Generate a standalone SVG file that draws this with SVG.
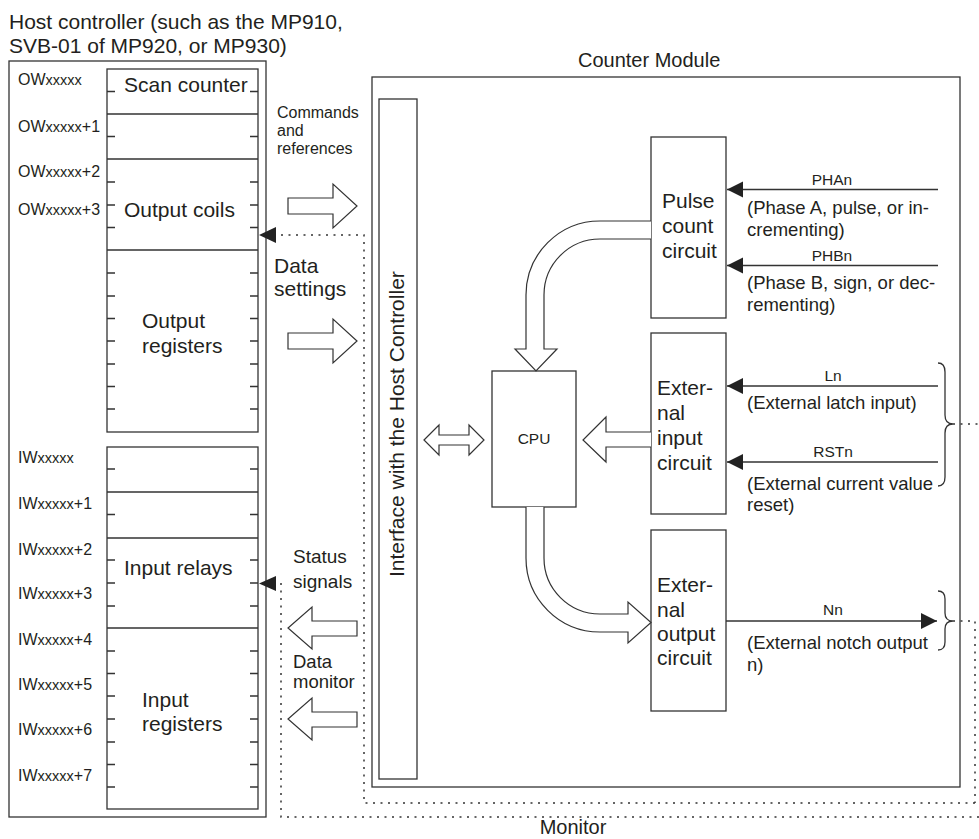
<svg xmlns="http://www.w3.org/2000/svg" width="979" height="839" viewBox="0 0 979 839">
<defs>
<style>
.ln{fill:none;stroke:#333;stroke-width:1.3}
.box{fill:#fff;stroke:#333;stroke-width:1.3}
.blk{fill:#fff;stroke:#333;stroke-width:1.2;stroke-linejoin:miter}
.dot{fill:none;stroke:#333;stroke-width:1.5;stroke-dasharray:2 5.5}
.sig{fill:none;stroke:#333;stroke-width:1.6}
text{font-family:"Liberation Sans",Arial,Helvetica,sans-serif;fill:#231f20}
.t21{font-size:21px}
.t20{font-size:20px}
.t19{font-size:19px}
.t18{font-size:18.5px}
.t16{font-size:16px}
.t15{font-size:15.5px}
.lbl{font-size:16px}
.x{font-size:14.5px}
</style>
<marker id="ah" markerUnits="userSpaceOnUse" markerWidth="17" markerHeight="17" refX="16" refY="8" orient="auto">
<path d="M0,0 L16,8 L0,16 z" fill="#222"/>
</marker>
</defs>

<text class="t21" x="9" y="29">Host controller (such as the MP910,</text>
<text class="t21" x="9" y="53">SVB-01 of MP920, or MP930)</text>

<g id="host-controller">
<rect class="box" x="9" y="61" width="257" height="756"/>
<rect class="box" x="107" y="69" width="151" height="363"/>
<rect class="box" x="107" y="447" width="151" height="362"/>
<path class="ln" d="M107,114H258M107,159H258M107,250H258M107,492H258M107,538H258M107,628H258"/>
<path class="ln" d="M107,91.5h8M250,91.5h8M107,136.5h8M250,136.5h8M107,182h8M250,182h8M107,205h8M250,205h8M107,227.5h8M250,227.5h8M107,273h8M250,273h8M107,296h8M250,296h8M107,318.5h8M250,318.5h8M107,341h8M250,341h8M107,364h8M250,364h8M107,386.5h8M250,386.5h8M107,409h8M250,409h8M107,469h8M250,469h8M107,514.5h8M250,514.5h8M107,560h8M250,560h8M107,583h8M250,583h8M107,606h8M250,606h8M107,651h8M250,651h8M107,673.5h8M250,673.5h8M107,696h8M250,696h8M107,719h8M250,719h8M107,742h8M250,742h8M107,764.5h8M250,764.5h8M107,787h8M250,787h8"/>
<text class="lbl" x="18" y="85">OW<tspan class="x">xxxxx</tspan></text>
<text class="lbl" x="18" y="132">OW<tspan class="x">xxxxx</tspan>+1</text>
<text class="lbl" x="18" y="177">OW<tspan class="x">xxxxx</tspan>+2</text>
<text class="lbl" x="18" y="215">OW<tspan class="x">xxxxx</tspan>+3</text>
<text class="lbl" x="18" y="463">IW<tspan class="x">xxxxx</tspan></text>
<text class="lbl" x="18" y="509">IW<tspan class="x">xxxxx</tspan>+1</text>
<text class="lbl" x="18" y="555">IW<tspan class="x">xxxxx</tspan>+2</text>
<text class="lbl" x="18" y="599">IW<tspan class="x">xxxxx</tspan>+3</text>
<text class="lbl" x="18" y="645">IW<tspan class="x">xxxxx</tspan>+4</text>
<text class="lbl" x="18" y="690">IW<tspan class="x">xxxxx</tspan>+5</text>
<text class="lbl" x="18" y="735">IW<tspan class="x">xxxxx</tspan>+6</text>
<text class="lbl" x="18" y="781">IW<tspan class="x">xxxxx</tspan>+7</text>
<text class="t21" x="124" y="92">Scan counter</text>
<text class="t21" x="124" y="217">Output coils</text>
<text class="t21" x="142" y="328">Output</text>
<text class="t21" x="142" y="353">registers</text>
<text class="t21" x="124" y="575">Input relays</text>
<text class="t21" x="142" y="707">Input</text>
<text class="t21" x="142" y="731">registers</text>
</g>

<g id="counter-module">
<rect class="box" x="372" y="77" width="588" height="710"/>
<text class="t20" x="578" y="67">Counter Module</text>
</g>

<g id="interface">
<rect class="box" x="379" y="99" width="38" height="680"/>
<text class="t21" transform="translate(404,577) rotate(-90)">Interface with the Host Controller</text>
</g>

<g id="cpu">
<rect class="box" x="492" y="371" width="84" height="136"/>
<text class="t15" x="534" y="444" text-anchor="middle">CPU</text>
</g>

<g id="pulse-count">
<rect class="box" x="651" y="137" width="75" height="181"/>
<text class="t21" x="662" y="208">Pulse</text>
<text class="t21" x="662" y="233">count</text>
<text class="t21" x="662" y="258">circuit</text>
</g>

<g id="external-input">
<rect class="box" x="651" y="333" width="75" height="181"/>
<text class="t21" x="657" y="395">Exter-</text>
<text class="t21" x="657" y="420">nal</text>
<text class="t21" x="657" y="445">input</text>
<text class="t21" x="657" y="470">circuit</text>
</g>

<g id="external-output">
<rect class="box" x="651" y="530" width="75" height="181"/>
<text class="t21" x="657" y="592">Exter-</text>
<text class="t21" x="657" y="617">nal</text>
<text class="t21" x="657" y="641">output</text>
<text class="t21" x="657" y="665">circuit</text>
</g>

<g id="connectors">
<path class="blk" d="M288,198H333V184L357,206L333,228V214H288Z"/>
<path class="blk" d="M288,333H333V319L357,341L333,363V349H288Z"/>
<path class="blk" d="M357,621H312V607L288,628L312,649V636H357Z"/>
<path class="blk" d="M357,712H312V698L288,719L312,740V727H357Z"/>
<path class="blk" d="M424,440L439,425V435H469V425L484,440L469,455V445H439V455Z"/>
<path class="blk" d="M651,432H606V417L583,440L606,462V447H651"/>
<path class="blk" d="M651,221H600A74,74 0 0 0 526,295V349H515L536,371L557,349H544V295A56,56 0 0 1 600,239H651"/>
<path class="blk" d="M544,507V558A56,56 0 0 0 600,614H628V602L651,622.5L628,643V632H600A74,74 0 0 1 526,558V507"/>

<path class="dot" d="M975,803H364V235H276"/>
<polygon points="259,235 276,227 276,243" fill="#222"/>
<path class="dot" d="M979,817H281V583H276"/>
<polygon points="259,583.5 276,576 276,591" fill="#222"/>
<path class="dot" d="M953,621H975V803"/>
<path class="dot" d="M953,424H979"/>

<line class="sig" x1="938" y1="189.5" x2="727" y2="189.5" marker-end="url(#ah)"/>
<line class="sig" x1="938" y1="265.5" x2="727" y2="265.5" marker-end="url(#ah)"/>
<line class="sig" x1="938" y1="386" x2="727" y2="386" marker-end="url(#ah)"/>
<line class="sig" x1="938" y1="462" x2="727" y2="462" marker-end="url(#ah)"/>
<line class="sig" x1="726" y1="621" x2="937" y2="621" marker-end="url(#ah)"/>
<path class="ln" d="M938,363Q945,363 945,372L945,415Q945,424 953,424Q945,424 945,433L945,477Q945,486 938,486"/>
<path class="ln" d="M938,591Q945,591 945,599L945,613Q945,621 953,621Q945,621 945,629L945,642Q945,650 938,650"/>
</g>

<g id="labels">
<text class="t16" x="277" y="118">Commands</text>
<text class="t16" x="277" y="136">and</text>
<text class="t16" x="277" y="154">references</text>
<text class="t21" x="274" y="273">Data</text>
<text class="t21" x="274" y="296">settings</text>
<text class="t19" x="293" y="563">Status</text>
<text class="t19" x="293" y="588">signals</text>
<text class="t18" x="293" y="668">Data</text>
<text class="t18" x="293" y="688">monitor</text>
<text class="t20" x="573" y="834" text-anchor="middle">Monitor</text>

<text class="t15" x="832" y="185" text-anchor="middle">PHAn</text>
<text class="t18" x="747" y="214">(Phase A, pulse, or in-</text>
<text class="t18" x="747" y="236">crementing)</text>
<text class="t15" x="832" y="261" text-anchor="middle">PHBn</text>
<text class="t18" x="747" y="289">(Phase B, sign, or dec-</text>
<text class="t18" x="747" y="311">rementing)</text>

<text class="t15" x="833" y="381" text-anchor="middle">Ln</text>
<text class="t18" x="747" y="409">(External latch input)</text>
<text class="t15" x="833" y="457" text-anchor="middle">RSTn</text>
<text class="t18" x="747" y="490">(External current value</text>
<text class="t18" x="747" y="511">reset)</text>

<text class="t15" x="833" y="615" text-anchor="middle">Nn</text>
<text class="t18" x="747" y="649">(External notch output</text>
<text class="t18" x="747" y="671">n)</text>
</g>
</svg>
